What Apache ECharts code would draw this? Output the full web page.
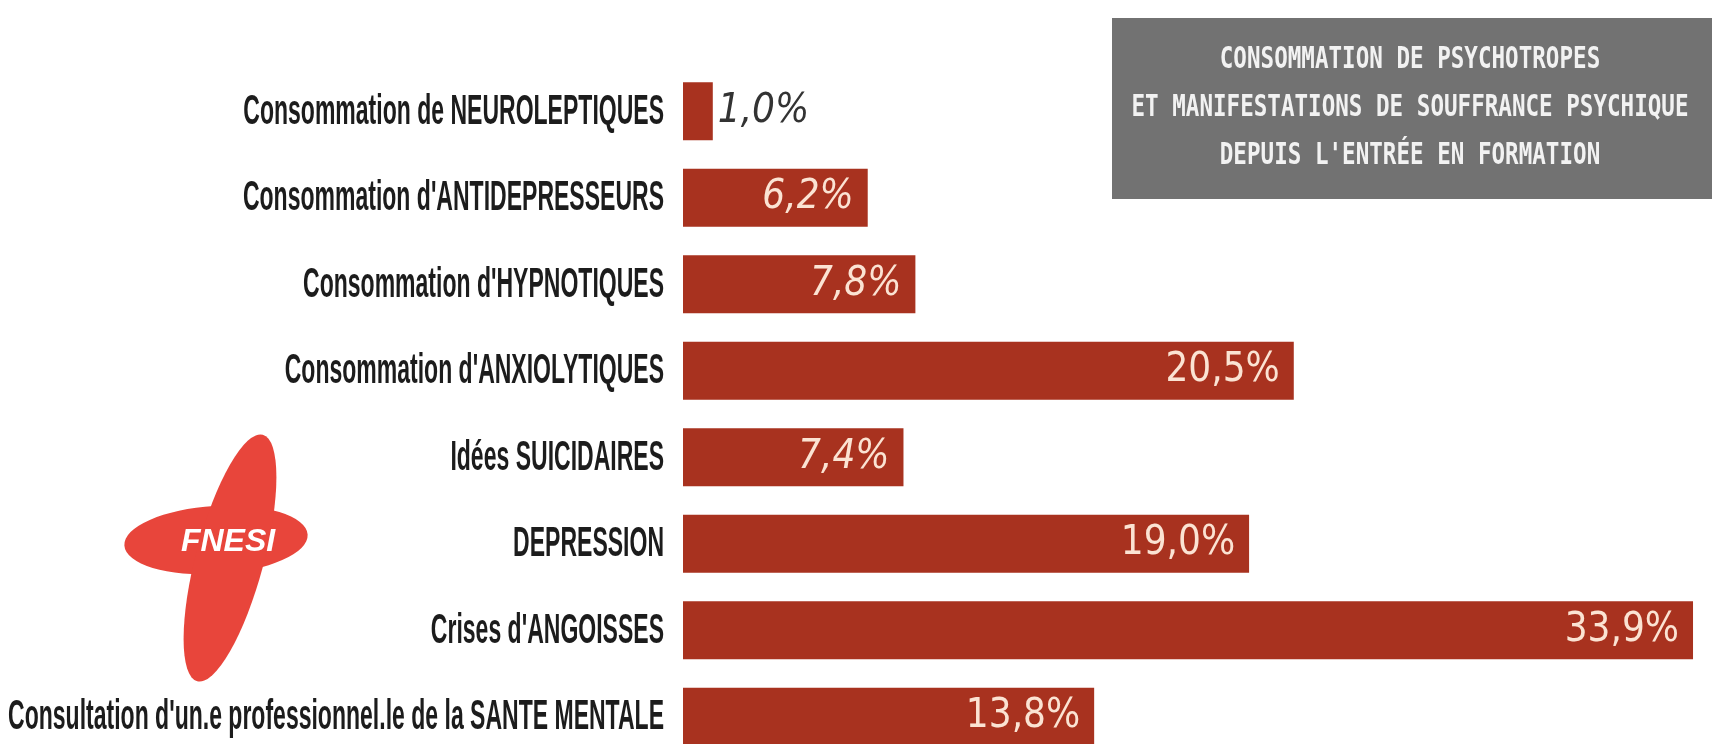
<!DOCTYPE html>
<html>
<head>
<meta charset="utf-8">
<script src="https://cdn.jsdelivr.net/npm/echarts@6/dist/echarts.min.js"></script>
<style>
html,body{margin:0;padding:0;background:#ffffff;}
#chart{width:1712px;height:744px;}
</style>
</head>
<body>
<div id="chart"></div>
<script>
const categories = [
  "Consommation de NEUROLEPTIQUES",
  "Consommation d'ANTIDEPRESSEURS",
  "Consommation d'HYPNOTIQUES",
  "Consommation d'ANXIOLYTIQUES",
  "Idées SUICIDAIRES",
  "DEPRESSION",
  "Crises d'ANGOISSES",
  "Consultation d'un.e professionnel.le de la SANTE MENTALE"
];
const values = [1.0, 6.2, 7.8, 20.5, 7.4, 19.0, 33.9, 13.8];
const titleLines = [
  "CONSOMMATION DE PSYCHOTROPES",
  "ET MANIFESTATIONS DE SOUFFRANCE PSYCHIQUE",
  "DEPUIS L'ENTRÉE EN FORMATION"
];
const logoText = "FNESI";

const BAR = '#a8321f';
const COND = '"DejaVu Sans Condensed", "DejaVu Sans", sans-serif';
const LAB = '"Liberation Sans", Arial, sans-serif';
const MONO = '"DejaVu Sans Mono", "Liberation Mono", monospace';
const fmt = v => v.toFixed(1).replace('.', ',') + '%';

const seriesData = values.map(v => {
  const outside = v < 3;
  return {
    value: v,
    label: {
      show: true,
      position: outside ? 'right' : 'insideRight',
      distance: outside ? 5 : 14,
      color: outside ? '#333333' : '#fbe3d3',
      fontStyle: v < 10 ? 'italic' : 'normal',
      fontFamily: COND,
      fontSize: 40,
      formatter: p => fmt(p.value)
    }
  };
});

const chart = echarts.init(document.getElementById('chart'), null, {renderer: 'canvas'});
chart.setOption({
  backgroundColor: '#ffffff',
  animation: false,
  grid: {left: 683, right: 16, top: 68, bottom: -16, containLabel: false, outerBoundsMode: 'none'},
  xAxis: {type: 'value', min: 0, max: 34, show: false},
  yAxis: {
    type: 'category',
    data: categories,
    inverse: true,
    axisLine: {show: false},
    axisTick: {show: false},
    splitLine: {show: false},
    axisLabel: {show: false}
  },
  series: [
    {
      type: 'bar',
      data: seriesData,
      barWidth: 58,
      itemStyle: {color: BAR}
    },
    {
      // category labels, placed by the category axis, condensed horizontally
      type: 'custom',
      silent: true,
      clip: false,
      data: categories.map((c, i) => [0, i]),
      renderItem: (params, api) => {
        const pt = api.coord([0, api.value(1)]);
        return {
          type: 'text',
          x: pt[0] - 19,
          y: pt[1] + 1,
          scaleX: 0.548,
          style: {
            text: categories[api.value(1)],
            fill: '#1c1c1c',
            font: 'bold 42px ' + LAB,
            align: 'right',
            verticalAlign: 'middle'
          }
        };
      }
    }
  ],
  graphic: [
    {
      type: 'rect',
      shape: {x: 1112, y: 18, width: 600, height: 181},
      style: {fill: '#727272'},
      z: 10
    },
    {
      type: 'text',
      x: 1410, y: 108,
      scaleX: 0.728,
      style: {
        text: titleLines.join('\n'),
        fill: '#f2f2f2',
        font: 'bold 31px ' + MONO,
        lineHeight: 48,
        align: 'center',
        verticalAlign: 'middle'
      },
      z: 11
    },
    {
      type: 'group',
      x: 216, y: 540,
      children: [
        {
          type: 'circle',
          shape: {cx: 0, cy: 0, r: 34},
          scaleX: 2.7, scaleY: 1,
          rotation: 0.06,
          style: {fill: '#e8453b'}
        },
        {
          type: 'circle',
          shape: {cx: 0, cy: 0, r: 34},
          scaleX: 1.0, scaleY: 3.75,
          x: 14, y: 18,
          rotation: -0.26,
          style: {fill: '#e8453b'}
        },
        {
          type: 'text',
          x: 12, y: 2,
          style: {
            text: logoText,
            fill: '#ffffff',
            font: 'italic bold 32px "Liberation Sans", Arial, sans-serif',
            align: 'center',
            verticalAlign: 'middle'
          }
        }
      ]
    }
  ]
});
</script>
</body>
</html>
